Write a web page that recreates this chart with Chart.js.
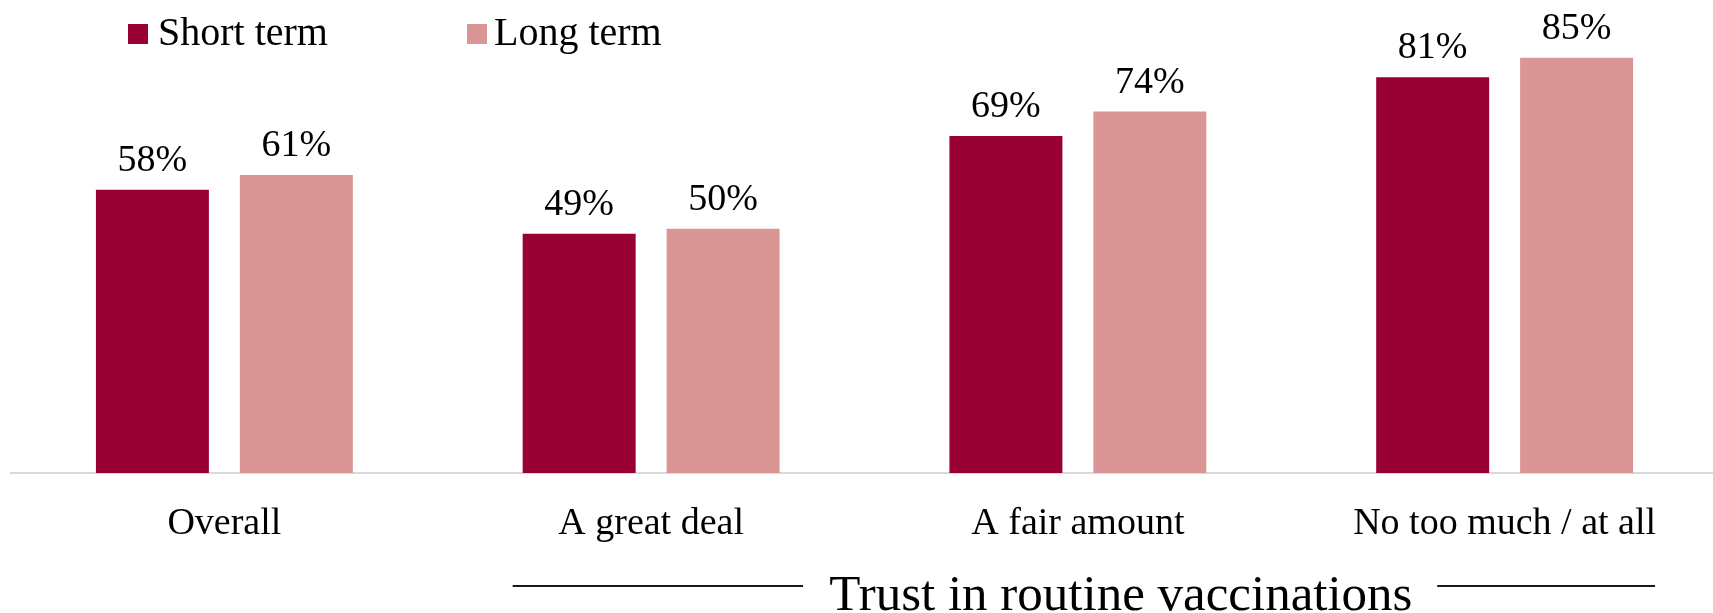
<!DOCTYPE html>
<html>
<head>
<meta charset="utf-8">
<script src="https://cdn.jsdelivr.net/npm/chart.js@4.4.1/dist/chart.umd.min.js"></script>
<style>
  html, body { margin: 0; padding: 0; background: #ffffff; overflow: hidden; }
  #wrap { position: relative; width: 1720px; height: 613px; }
</style>
</head>
<body>
<div id="wrap"><canvas id="c"></canvas></div>
<script>
// ---- data ----
const categories = ['Overall', 'A great deal', 'A fair amount', 'No too much / at all'];
const shortTerm = [58, 49, 69, 81];
const longTerm = [61, 50, 74, 85];
const seriesNames = ['Short term', 'Long term'];
const groupTitle = 'Trust in routine vaccinations';

const COL_SHORT = '#990033';
const COL_LONG = '#D99694';
const FONT = '"Liberation Serif", "Times New Roman", serif';

const valueLabels = {
  id: 'valueLabels',
  afterDatasetsDraw(chart) {
    const ctx = chart.ctx;
    ctx.save();
    ctx.font = '38px ' + FONT;
    ctx.fillStyle = '#000000';
    ctx.textAlign = 'center';
    ctx.textBaseline = 'alphabetic';
    chart.data.datasets.forEach((ds, di) => {
      const meta = chart.getDatasetMeta(di);
      meta.data.forEach((bar, i) => {
        ctx.fillText(ds.data[i] + '%', bar.x, bar.y - 19);
      });
    });
    ctx.restore();
  }
};

const customLegend = {
  id: 'customLegend',
  afterDraw(chart) {
    const ctx = chart.ctx;
    ctx.save();
    ctx.font = '40px ' + FONT;
    ctx.textBaseline = 'alphabetic';
    ctx.textAlign = 'left';
    const items = [
      { box: 128, text: 158 },
      { box: 467, text: 494 }
    ];
    chart.data.datasets.forEach((ds, di) => {
      const it = items[di];
      ctx.fillStyle = ds.backgroundColor;
      ctx.fillRect(it.box, 24, 20, 20);
      ctx.fillStyle = '#000000';
      ctx.fillText(ds.label, it.text, 45);
    });
    ctx.restore();
  }
};

const groupTitlePlugin = {
  id: 'groupTitle',
  afterDraw(chart) {
    const ctx = chart.ctx;
    const xs = chart.scales.x;
    const c1 = xs.getPixelForValue(1);
    const c2 = xs.getPixelForValue(2);
    const c3 = xs.getPixelForValue(3);
    const s = c2 - c1;
    ctx.save();
    ctx.strokeStyle = '#1a1a1a';
    ctx.lineWidth = 2;
    ctx.beginPath();
    ctx.moveTo(c1 - 0.3245 * s, 586);
    ctx.lineTo(c1 + 0.356 * s, 586);
    ctx.moveTo(c3 - 0.158 * s, 586);
    ctx.lineTo(c3 + 0.3525 * s, 586);
    ctx.stroke();
    ctx.font = '51px ' + FONT;
    ctx.fillStyle = '#000000';
    ctx.textAlign = 'center';
    ctx.textBaseline = 'alphabetic';
    ctx.fillText(groupTitle, c2 + 0.1008 * s, 610);
    ctx.restore();
  }
};

new Chart(document.getElementById('c'), {
  type: 'bar',
  data: {
    labels: categories,
    datasets: [
      { label: seriesNames[0], data: shortTerm, backgroundColor: COL_SHORT },
      { label: seriesNames[1], data: longTerm, backgroundColor: COL_LONG }
    ]
  },
  options: {
    responsive: true,
    maintainAspectRatio: false,
    animation: false,
    layout: { padding: { top: 33.4, left: 11, right: 2, bottom: 0 } },
    categoryPercentage: 0.6745,
    barPercentage: 0.785,
    plugins: {
      legend: { display: false },
      tooltip: { enabled: false },
      title: { display: false }
    },
    scales: {
      x: {
        grid: { display: false, drawTicks: false },
        border: { display: true, color: '#D9D9D9', width: 2 },
        ticks: {
          color: '#000000',
          font: { family: FONT, size: 38 },
          padding: 28,
          maxRotation: 0,
          autoSkip: false
        },
        afterFit(scale) { scale.height = 140; }
      },
      y: {
        display: false,
        min: 0,
        max: 90
      }
    }
  },
  plugins: [valueLabels, customLegend, groupTitlePlugin]
});
</script>
</body>
</html>
